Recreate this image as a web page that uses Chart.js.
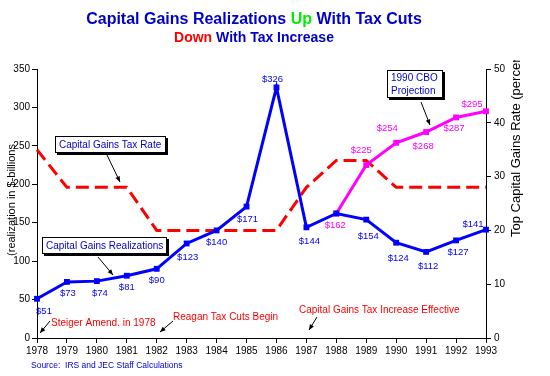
<!DOCTYPE html>
<html>
<head>
<meta charset="utf-8">
<script src="https://cdn.jsdelivr.net/npm/chart.js@4"></script>
<style>
  body { margin: 0; background: #fff; }
  canvas { display: block; }
</style>
</head>
<body>
<canvas id="grafico" width="550" height="376"></canvas>
<script>
// datos del grafico
var years = ['1978', '1979', '1980', '1981', '1982', '1983', '1984', '1985',
  '1986', '1987', '1988', '1989', '1990', '1991', '1992', '1993'];
var realizations = [51, 73, 74, 81, 90, 123, 140, 171, 326, 144, 162, 154, 124, 112, 127, 141];
var cboProjection = [null, null, null, null, null, null, null, null, null, null, 162, 225, 254, 268, 287, 295];
var taxRate = [35, 28, 28, 28, 20, 20, 20, 20, 20, 28, 33, 33, 28, 28, 28, 28];
var leftTicks = [0, 50, 100, 150, 200, 250, 300, 350];
var rightTicks = [0, 10, 20, 30, 40, 50];

// desplazamiento de cada etiqueta respecto a su punto
var realizOffsets = [[7, 13], [1, 11], [3, 12], [0, 12], [0, 12], [1, 14], [0, 12], [1, 13],
  [-4, -8], [3, 14], null, [2, 17], [2, 16], [2, 14], [2, 12], [-13, -5]];
var cboOffsets = [null, null, null, null, null, null, null, null, null, null,
  [-1, 12], [-5, -15], [-9, -14], [-3, 14], [-2, 11], [-14, -7]];

var BLUE = '#0000ff';
var DARKBLUE = '#0000cc';
var MAGENTA = '#ff00ff';
var RED = '#ff0000';
var FONT = '"Liberation Sans", Arial, sans-serif';

function arrow(ctx, x1, y1, x2, y2) {
  ctx.save();
  ctx.strokeStyle = '#000';
  ctx.fillStyle = '#000';
  ctx.lineWidth = 1;
  ctx.beginPath();
  ctx.moveTo(x1, y1);
  ctx.lineTo(x2, y2);
  ctx.stroke();
  var a = Math.atan2(y2 - y1, x2 - x1);
  ctx.beginPath();
  ctx.moveTo(x2, y2);
  ctx.lineTo(x2 - 6 * Math.cos(a - 0.4), y2 - 6 * Math.sin(a - 0.4));
  ctx.lineTo(x2 - 6 * Math.cos(a + 0.4), y2 - 6 * Math.sin(a + 0.4));
  ctx.closePath();
  ctx.fill();
  ctx.restore();
}

function box(ctx, lines, x, y, w, h) {
  ctx.save();
  ctx.fillStyle = '#000';
  ctx.fillRect(x + 2, y + 2, w, h);
  ctx.fillStyle = '#fff';
  ctx.fillRect(x, y, w, h);
  ctx.strokeStyle = '#000';
  ctx.lineWidth = 1;
  ctx.strokeRect(x + 0.5, y + 0.5, w - 1, h - 1);
  ctx.fillStyle = DARKBLUE;
  ctx.font = '10px ' + FONT;
  ctx.textAlign = 'left';
  ctx.textBaseline = 'middle';
  var lh = (h - 2) / lines.length;
  lines.forEach(function (t, i) {
    ctx.fillText(t, x + 4, y + 1 + lh * i + lh / 2 + 0.5);
  });
  ctx.restore();
}

function partes(ctx, segs, cx, y, font) {
  ctx.font = font;
  var total = 0;
  segs.forEach(function (s) { total += ctx.measureText(s[0]).width; });
  var x = cx - total / 2;
  segs.forEach(function (s) {
    ctx.fillStyle = s[1];
    ctx.fillText(s[0], x, y);
    x += ctx.measureText(s[0]).width;
  });
}

var anotaciones = {
  id: 'anotaciones',
  afterDatasetsDraw: function (chart) {
    var ctx = chart.ctx;
    ctx.save();
    ctx.textBaseline = 'middle';
    ctx.textAlign = 'left';

    // titulo en dos lineas
    partes(ctx, [['Capital Gains Realizations ', DARKBLUE], ['Up', '#00ee00'], [' With Tax Cuts', DARKBLUE]],
      254, 20, 'bold 16px ' + FONT);
    partes(ctx, [['Down', RED], [' With Tax Increase', DARKBLUE]], 254, 38, 'bold 14px ' + FONT);

    // etiquetas de valores
    ctx.font = '9.5px ' + FONT;
    ctx.textAlign = 'center';
    [[0, realizOffsets, BLUE], [1, cboOffsets, MAGENTA]].forEach(function (d) {
      var meta = chart.getDatasetMeta(d[0]);
      var vals = chart.data.datasets[d[0]].data;
      ctx.fillStyle = d[2];
      meta.data.forEach(function (pt, i) {
        if (vals[i] == null || !d[1][i]) return;
        ctx.fillText('$' + vals[i], pt.x + d[1][i][0], pt.y + d[1][i][1]);
      });
    });

    // titulos de ejes
    ctx.fillStyle = '#000';
    ctx.font = '11px ' + FONT;
    ctx.save();
    ctx.translate(12, 200);
    ctx.rotate(-Math.PI / 2);
    ctx.fillText('(realization in $-billions', 0, 0);
    ctx.restore();
    ctx.save();
    ctx.beginPath();
    ctx.rect(500, 60, 50, 300);
    ctx.clip();
    ctx.translate(516, 237);
    ctx.rotate(-Math.PI / 2);
    ctx.textAlign = 'left';
    ctx.font = '13px ' + FONT;
    ctx.fillText('Top Capital Gains Rate (percent)', 0, 0);
    ctx.restore();

    // cajas y flechas
    box(ctx, ['Capital Gains Tax Rate'], 55, 136, 111, 17);
    arrow(ctx, 107, 155, 120, 182);
    box(ctx, ['Capital Gains Realizations'], 42, 237, 125, 17);
    arrow(ctx, 98, 257, 113, 275);
    box(ctx, ['1990 CBO', 'Projection'], 387, 70, 56, 28);
    arrow(ctx, 421, 102, 430, 125);

    // notas en rojo
    ctx.textAlign = 'left';
    ctx.fillStyle = RED;
    ctx.font = '10px ' + FONT;
    ctx.fillText('Steiger Amend. in 1978', 51, 323);
    arrow(ctx, 50, 321, 40, 333);
    ctx.fillText('Reagan Tax Cuts Begin', 173, 317);
    arrow(ctx, 173, 321, 160, 332);
    ctx.fillText('Capital Gains Tax Increase Effective', 299, 310);
    arrow(ctx, 317, 317, 309, 330);

    // fuente
    ctx.fillStyle = DARKBLUE;
    ctx.font = '8.5px ' + FONT;
    ctx.fillText('Source:  IRS and JEC Staff Calculations', 31, 366);
    ctx.restore();
  }
};

var ctx = document.getElementById('grafico');
window.miGrafico = new Chart(ctx, {
  type: 'line',
  data: {
    labels: years,
    datasets: [{
      label: 'Capital Gains Realizations',
      data: realizations,
      borderColor: BLUE,
      backgroundColor: BLUE,
      borderWidth: 3,
      pointStyle: 'rect',
      pointRadius: 2,
      tension: 0,
      yAxisID: 'y'
    }, {
      label: '1990 CBO Projection',
      data: cboProjection,
      borderColor: MAGENTA,
      backgroundColor: MAGENTA,
      borderWidth: 3,
      pointStyle: 'rect',
      pointRadius: 2,
      tension: 0,
      yAxisID: 'y'
    }, {
      label: 'Capital Gains Tax Rate',
      data: taxRate,
      borderColor: RED,
      borderWidth: 3,
      borderDash: [13, 6],
      pointRadius: 0,
      tension: 0,
      yAxisID: 'y1'
    }]
  },
  options: {
    responsive: false,
    animation: false,
    layout: { padding: { top: 69, left: 0, right: 0, bottom: 0 } },
    plugins: {
      legend: { display: false },
      title: { display: false },
      tooltip: { enabled: false }
    },
    scales: {
      x: {
        type: 'category',
        offset: false,
        grid: { display: true, drawOnChartArea: false, tickLength: 5, color: '#000' },
        border: { display: true, color: '#000', width: 1 },
        ticks: { color: '#000', font: { size: 10, family: FONT }, maxRotation: 0, autoSkip: false, padding: 2 },
        afterFit: function (s) { s.height = 38; }
      },
      y: {
        position: 'left',
        min: 0,
        max: 350,
        afterBuildTicks: function (s) { s.ticks = leftTicks.map(function (v) { return { value: v }; }); },
        grid: { display: true, drawOnChartArea: false, tickLength: 5, color: '#000' },
        border: { display: true, color: '#000', width: 1 },
        ticks: { color: '#000', font: { size: 10, family: FONT }, padding: 2 },
        afterFit: function (s) { s.width = 37; }
      },
      y1: {
        position: 'right',
        min: 0,
        max: 50,
        afterBuildTicks: function (s) { s.ticks = rightTicks.map(function (v) { return { value: v }; }); },
        grid: { display: true, drawOnChartArea: false, tickLength: 5, color: '#000' },
        border: { display: true, color: '#000', width: 1 },
        ticks: { color: '#000', font: { size: 10, family: FONT }, padding: 3 },
        afterFit: function (s) { s.width = 64; }
      }
    }
  },
  plugins: [anotaciones]
});
</script>
</body>
</html>
